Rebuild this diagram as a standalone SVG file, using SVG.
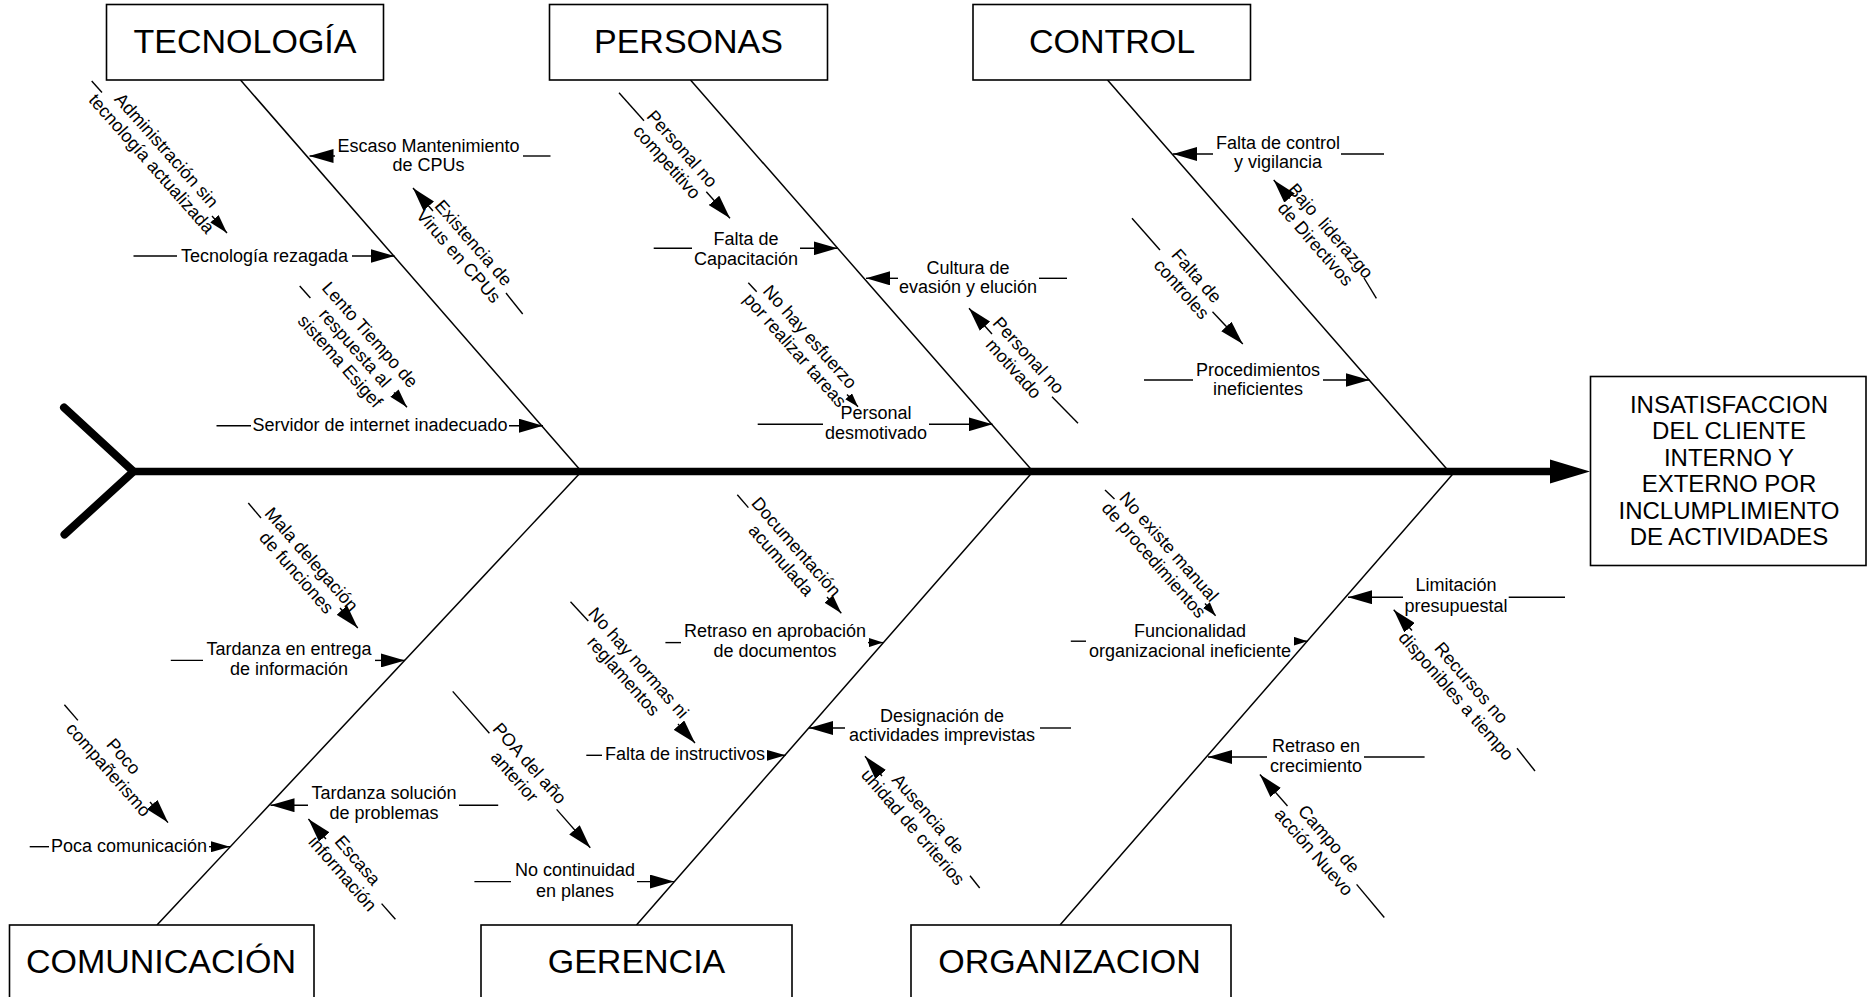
<svg xmlns="http://www.w3.org/2000/svg" width="1867" height="997" viewBox="0 0 1867 997">
<style>
  .box{fill:#fff;stroke:#000;stroke-width:1.6}
  .cat{font-family:"Liberation Sans",Arial,sans-serif;font-size:34px;text-anchor:middle;fill:#000}
  .eff{font-family:"Liberation Sans",Arial,sans-serif;font-size:24px;text-anchor:middle;fill:#000}
  .lb{font-family:"Liberation Sans",Arial,sans-serif;font-size:18px;text-anchor:middle;fill:#000}
  .bone{stroke:#000;stroke-width:1.5;fill:none}
  .ln{stroke:#000;stroke-width:1.4;fill:none}
  .aL{stroke:#000;stroke-width:1.4;fill:none;marker-end:url(#mL)}
  .aM{stroke:#000;stroke-width:1.4;fill:none;marker-end:url(#mM)}
  .aS{stroke:#000;stroke-width:1.4;fill:none;marker-end:url(#mS)}
</style>
<defs>
  <marker id="mL" viewBox="0 0 24 14" refX="24" refY="7" markerWidth="24" markerHeight="14" markerUnits="userSpaceOnUse" orient="auto"><path d="M0,0 L24,7 L0,14 z" fill="#000"/></marker>
  <marker id="mM" viewBox="0 0 19 11" refX="19" refY="5.5" markerWidth="19" markerHeight="11" markerUnits="userSpaceOnUse" orient="auto"><path d="M0,0 L19,5.5 L0,11 z" fill="#000"/></marker>
  <marker id="mS" viewBox="0 0 14 9" refX="14" refY="4.5" markerWidth="14" markerHeight="9" markerUnits="userSpaceOnUse" orient="auto"><path d="M0,0 L14,4.5 L0,9 z" fill="#000"/></marker>
</defs>
<rect width="1867" height="997" fill="#fff"/>

<g id="connectors">
  <!-- spine -->
  <polyline points="64,407.5 133.5,471.5 64.5,534.5" fill="none" stroke="#000" stroke-width="8" stroke-linecap="round" stroke-linejoin="miter"/>
  <line x1="133" y1="471.5" x2="1553" y2="471.5" stroke="#000" stroke-width="7.5"/>
  <polygon points="1550,459.5 1590,471.5 1550,483.5" fill="#000"/>
  <!-- bones -->
  <line class="bone" x1="240.5" y1="80" x2="581.5" y2="471.5"/>
  <line class="bone" x1="690.5" y1="80" x2="1033" y2="471.5"/>
  <line class="bone" x1="1107.5" y1="80" x2="1449" y2="471.5"/>
  <line class="bone" x1="581.5" y1="471.5" x2="157" y2="925"/>
  <line class="bone" x1="1033" y1="471.5" x2="636.5" y2="925"/>
  <line class="bone" x1="1455" y1="471.5" x2="1060" y2="925"/>

  <!-- TECNOLOGIA causes -->
  <line class="ln" x1="523" y1="156" x2="550.5" y2="156"/>
  <line class="aL" x1="335" y1="156" x2="309.5" y2="156"/>
  <line class="ln" x1="133.5" y1="256" x2="177" y2="256"/>
  <line class="aL" x1="352" y1="256" x2="394.5" y2="256"/>
  <line class="ln" x1="216.5" y1="425.7" x2="251" y2="425.7"/>
  <line class="aL" x1="509" y1="425.7" x2="543" y2="425.7"/>
  <line class="ln" x1="91.7" y1="81" x2="102" y2="92.5"/>
  <line class="aM" x1="212" y1="216" x2="227" y2="233"/>
  <line class="ln" x1="506" y1="293" x2="522.7" y2="314"/>
  <line class="aL" x1="433" y1="211" x2="413" y2="188"/>
  <line class="ln" x1="299.7" y1="286" x2="310.4" y2="298"/>
  <line class="aM" x1="394" y1="392.5" x2="407" y2="407.3"/>

  <!-- PERSONAS causes -->
  <line class="ln" x1="653.7" y1="248.3" x2="692" y2="248.3"/>
  <line class="aL" x1="800" y1="248.3" x2="837.5" y2="248.3"/>
  <line class="ln" x1="1039" y1="278.3" x2="1067" y2="278.3"/>
  <line class="aL" x1="898" y1="278.3" x2="866" y2="278.3"/>
  <line class="ln" x1="757.7" y1="424.3" x2="823" y2="424.3"/>
  <line class="aL" x1="929" y1="424.3" x2="992.5" y2="424.3"/>
  <line class="ln" x1="619" y1="92.7" x2="644" y2="120.7"/>
  <line class="aL" x1="706.3" y1="191.7" x2="730" y2="218.3"/>
  <line class="ln" x1="748.3" y1="282.7" x2="756.7" y2="291.7"/>
  <line class="aS" x1="847" y1="394.5" x2="858" y2="406.7"/>
  <line class="ln" x1="1052" y1="396.7" x2="1078" y2="423.3"/>
  <line class="aL" x1="992" y1="334" x2="969" y2="308.3"/>

  <!-- CONTROL causes -->
  <line class="ln" x1="1341" y1="154" x2="1384" y2="154"/>
  <line class="aL" x1="1213" y1="154" x2="1173" y2="154"/>
  <line class="ln" x1="1144" y1="380" x2="1193" y2="380"/>
  <line class="aL" x1="1323" y1="380" x2="1369.5" y2="380"/>
  <line class="ln" x1="1364" y1="278" x2="1376.4" y2="298.3"/>
  <line class="aL" x1="1290" y1="198.5" x2="1273.7" y2="180"/>
  <line class="ln" x1="1132" y1="218.3" x2="1160" y2="250"/>
  <line class="aL" x1="1212.5" y1="311.7" x2="1242.8" y2="344"/>

  <!-- COMUNICACION causes -->
  <line class="ln" x1="170.8" y1="660.4" x2="203" y2="660.4"/>
  <line class="aL" x1="375" y1="660.4" x2="405" y2="660.4"/>
  <line class="ln" x1="459" y1="805.2" x2="498.2" y2="805.2"/>
  <line class="aL" x1="308" y1="805.2" x2="270.5" y2="805.2"/>
  <line class="ln" x1="29.7" y1="846.7" x2="49" y2="846.7"/>
  <line class="aM" x1="209" y1="846.7" x2="230" y2="846.7"/>
  <line class="ln" x1="248.3" y1="503" x2="261" y2="518"/>
  <line class="aL" x1="340" y1="608" x2="357.8" y2="628"/>
  <line class="ln" x1="64.4" y1="704.7" x2="77.9" y2="720.4"/>
  <line class="aL" x1="150" y1="802" x2="168" y2="822.6"/>
  <line class="ln" x1="381.6" y1="903.6" x2="395.4" y2="919.3"/>
  <line class="aL" x1="326" y1="839" x2="308.4" y2="819"/>

  <!-- GERENCIA causes -->
  <line class="ln" x1="665.4" y1="642.6" x2="681" y2="642.6"/>
  <line class="aS" x1="868" y1="642.6" x2="883" y2="642.6"/>
  <line class="ln" x1="1040" y1="728" x2="1071" y2="728"/>
  <line class="aL" x1="845" y1="728" x2="809" y2="728"/>
  <line class="ln" x1="586.3" y1="755.3" x2="602" y2="755.3"/>
  <line class="aM" x1="767" y1="755.3" x2="785.5" y2="755.3"/>
  <line class="ln" x1="474.4" y1="881.6" x2="511" y2="881.6"/>
  <line class="aL" x1="637" y1="881.6" x2="674" y2="881.6"/>
  <line class="ln" x1="737.3" y1="494.7" x2="748.4" y2="507.6"/>
  <line class="aM" x1="827" y1="597" x2="841.3" y2="613.3"/>
  <line class="ln" x1="570.5" y1="601.8" x2="588.3" y2="621"/>
  <line class="aL" x1="678" y1="724" x2="695" y2="743"/>
  <line class="ln" x1="452.7" y1="691.4" x2="489.4" y2="733.3"/>
  <line class="aL" x1="556.6" y1="809.4" x2="590.3" y2="847.8"/>
  <line class="ln" x1="970" y1="875.7" x2="979.7" y2="888"/>
  <line class="aL" x1="882" y1="776" x2="865" y2="756.3"/>

  <!-- ORGANIZACION causes -->
  <line class="ln" x1="1070.8" y1="641.2" x2="1086" y2="641.2"/>
  <line class="aS" x1="1294" y1="641.2" x2="1307.5" y2="641.2"/>
  <line class="ln" x1="1508.7" y1="597.2" x2="1565" y2="597.2"/>
  <line class="aL" x1="1403" y1="597.2" x2="1348" y2="597.2"/>
  <line class="ln" x1="1364" y1="757" x2="1424.6" y2="757"/>
  <line class="aL" x1="1267" y1="757" x2="1208" y2="757"/>
  <line class="ln" x1="1105" y1="490" x2="1114.5" y2="499"/>
  <line class="aS" x1="1205" y1="603.5" x2="1215.6" y2="615.7"/>
  <line class="ln" x1="1517" y1="748.3" x2="1535" y2="771"/>
  <line class="aL" x1="1412" y1="630.5" x2="1393.7" y2="609.8"/>
  <line class="ln" x1="1356.6" y1="884.4" x2="1384.3" y2="917.5"/>
  <line class="aL" x1="1287.5" y1="806" x2="1259.9" y2="774.5"/>
</g>

<!-- category boxes -->
<g id="tecnologia"><rect class="box" x="106.5" y="4.5" width="277" height="75.5"/><text class="cat" x="245" y="52.5">TECNOLOGÍA</text></g>
<g id="personas"><rect class="box" x="549.5" y="4.5" width="278" height="75.5"/><text class="cat" x="688.5" y="52.5">PERSONAS</text></g>
<g id="control"><rect class="box" x="973" y="4.5" width="277.5" height="75.5"/><text class="cat" x="1112" y="52.5">CONTROL</text></g>
<g id="comunicacion"><rect class="box" x="9.5" y="925" width="304.5" height="90"/><text class="cat" x="161" y="973">COMUNICACIÓN</text></g>
<g id="gerencia"><rect class="box" x="481" y="925" width="311" height="90"/><text class="cat" x="636.5" y="973">GERENCIA</text></g>
<g id="organizacion"><rect class="box" x="911" y="925" width="320" height="90"/><text class="cat" x="1069.5" y="973">ORGANIZACION</text></g>

<g id="efecto"><rect class="box" x="1590.5" y="376.5" width="275.5" height="189"/>
  <text class="eff" x="1729"><tspan x="1729" y="412.5">INSATISFACCION</tspan><tspan x="1729" y="439">DEL CLIENTE</tspan><tspan x="1729" y="465.5">INTERNO Y</tspan><tspan x="1729" y="492">EXTERNO POR</tspan><tspan x="1729" y="518.5">INCLUMPLIMIENTO</tspan><tspan x="1729" y="545">DE ACTIVIDADES</tspan></text>
</g>

<!-- horizontal causes -->
<g id="c-escaso"><text class="lb"><tspan x="428.5" y="151.7">Escaso Mantenimiento</tspan><tspan x="428.5" y="170.7">de CPUs</tspan></text></g>
<g id="c-tecrez"><text class="lb" x="264.5" y="262">Tecnología rezagada</text></g>
<g id="c-servidor"><text class="lb" x="380" y="431">Servidor de internet inadecuado</text></g>
<g id="c-faltacap"><text class="lb"><tspan x="746" y="245">Falta de</tspan><tspan x="746" y="265">Capacitación</tspan></text></g>
<g id="c-cultura"><text class="lb"><tspan x="968" y="274">Cultura de</tspan><tspan x="968" y="293">evasión y elución</tspan></text></g>
<g id="c-desmot"><text class="lb"><tspan x="876" y="419">Personal</tspan><tspan x="876" y="439">desmotivado</tspan></text></g>
<g id="c-faltacontrol"><text class="lb"><tspan x="1278" y="149">Falta de control</tspan><tspan x="1278" y="168">y vigilancia</tspan></text></g>
<g id="c-proced"><text class="lb"><tspan x="1258" y="376">Procedimientos</tspan><tspan x="1258" y="395">ineficientes</tspan></text></g>
<g id="c-tardentrega"><text class="lb"><tspan x="289" y="655">Tardanza en entrega</tspan><tspan x="289" y="675">de información</tspan></text></g>
<g id="c-tardsol"><text class="lb"><tspan x="384" y="799">Tardanza solución</tspan><tspan x="384" y="819">de problemas</tspan></text></g>
<g id="c-pocacom"><text class="lb" x="129" y="852">Poca comunicación</text></g>
<g id="c-retrasoaprob"><text class="lb"><tspan x="775" y="637.4">Retraso en aprobación</tspan><tspan x="775" y="657">de documentos</tspan></text></g>
<g id="c-designacion"><text class="lb"><tspan x="942" y="722">Designación de</tspan><tspan x="942" y="741">actividades imprevistas</tspan></text></g>
<g id="c-instructivos"><text class="lb" x="685" y="760">Falta de instructivos</text></g>
<g id="c-continuidad"><text class="lb"><tspan x="575" y="876.4">No continuidad</tspan><tspan x="575" y="896.6">en planes</tspan></text></g>
<g id="c-funcionalidad"><text class="lb"><tspan x="1190" y="637.4">Funcionalidad</tspan><tspan x="1190" y="657">organizacional ineficiente</tspan></text></g>
<g id="c-limitacion"><text class="lb"><tspan x="1456" y="591.3">Limitación</tspan><tspan x="1456" y="611.5">presupuestal</tspan></text></g>
<g id="c-retrasocrec"><text class="lb"><tspan x="1316" y="751.8">Retraso en</tspan><tspan x="1316" y="771.7">crecimiento</tspan></text></g>

<!-- diagonal sub-causes -->
<g id="d-admin"><text class="lb" transform="translate(159,157) rotate(48.5)"><tspan x="0" y="-4">Administración sin</tspan><tspan x="0" y="16">tecnología actualizada</tspan></text></g>
<g id="d-virus"><text class="lb" transform="translate(466,249.5) rotate(48.9)"><tspan x="0" y="-4">Existencia de</tspan><tspan x="0" y="16">Virus en CPUs</tspan></text></g>
<g id="d-lento"><text class="lb" transform="translate(355,348) rotate(48.5)"><tspan x="0" y="-14">Lento Tiempo de</tspan><tspan x="0" y="6">respuesta al</tspan><tspan x="0" y="26">sistema Esigef</tspan></text></g>
<g id="d-competitivo"><text class="lb" transform="translate(674.5,155.5) rotate(48.5)"><tspan x="0" y="-4">Personal no</tspan><tspan x="0" y="16">competitivo</tspan></text></g>
<g id="d-esfuerzo"><text class="lb" transform="translate(802.5,343.5) rotate(48.5)"><tspan x="0" y="-4">No hay esfuerzo</tspan><tspan x="0" y="16">por realizar tareas</tspan></text></g>
<g id="d-motivado"><text class="lb" transform="translate(1021,362) rotate(48)"><tspan x="0" y="-4">Personal no</tspan><tspan x="0" y="16">motivado</tspan></text></g>
<g id="d-liderazgo"><text class="lb" transform="translate(1323,237.5) rotate(49)"><tspan x="0" y="-4">Bajo&#160; liderazgo</tspan><tspan x="0" y="16">de Directivos</tspan></text></g>
<g id="d-controles"><text class="lb" transform="translate(1189,282.5) rotate(48.6)"><tspan x="0" y="-4">Falta de</tspan><tspan x="0" y="16">controles</tspan></text></g>
<g id="d-delegacion"><text class="lb" transform="translate(304,566) rotate(48.8)"><tspan x="0" y="-4">Mala delegación</tspan><tspan x="0" y="16">de funciones</tspan></text></g>
<g id="d-companerismo"><text class="lb" transform="translate(116,763) rotate(48.7)"><tspan x="0" y="-4">Poco</tspan><tspan x="0" y="16">compañerismo</tspan></text></g>
<g id="d-escasa"><text class="lb" transform="translate(350,867) rotate(49)"><tspan x="0" y="-4">Escasa</tspan><tspan x="0" y="16">información</tspan></text></g>
<g id="d-documentacion"><text class="lb" transform="translate(788.6,553.5) rotate(48.8)"><tspan x="0" y="-4">Documentación</tspan><tspan x="0" y="16">acumulada</tspan></text></g>
<g id="d-normas"><text class="lb" transform="translate(631,669.5) rotate(48.6)"><tspan x="0" y="-4">No hay normas ni</tspan><tspan x="0" y="16">reglamentos</tspan></text></g>
<g id="d-poa"><text class="lb" transform="translate(522,770) rotate(48.7)"><tspan x="0" y="-4">POA del año</tspan><tspan x="0" y="16">anterior</tspan></text></g>
<g id="d-ausencia"><text class="lb" transform="translate(920.5,820.5) rotate(49)"><tspan x="0" y="-4">Ausencia de</tspan><tspan x="0" y="16">unidad de criterios</tspan></text></g>
<g id="d-manual"><text class="lb" transform="translate(1161.4,553.5) rotate(48.7)"><tspan x="0" y="-4">No existe manual</tspan><tspan x="0" y="16">de procedimientos</tspan></text></g>
<g id="d-recursos"><text class="lb" transform="translate(1463.7,689.5) rotate(48.8)"><tspan x="0" y="-4">Recursos no</tspan><tspan x="0" y="16">disponibles a tiempo</tspan></text></g>
<g id="d-campo"><text class="lb" transform="translate(1321.3,845.5) rotate(49)"><tspan x="0" y="-4">Campo de</tspan><tspan x="0" y="16">acción Nuevo</tspan></text></g>
</svg>
